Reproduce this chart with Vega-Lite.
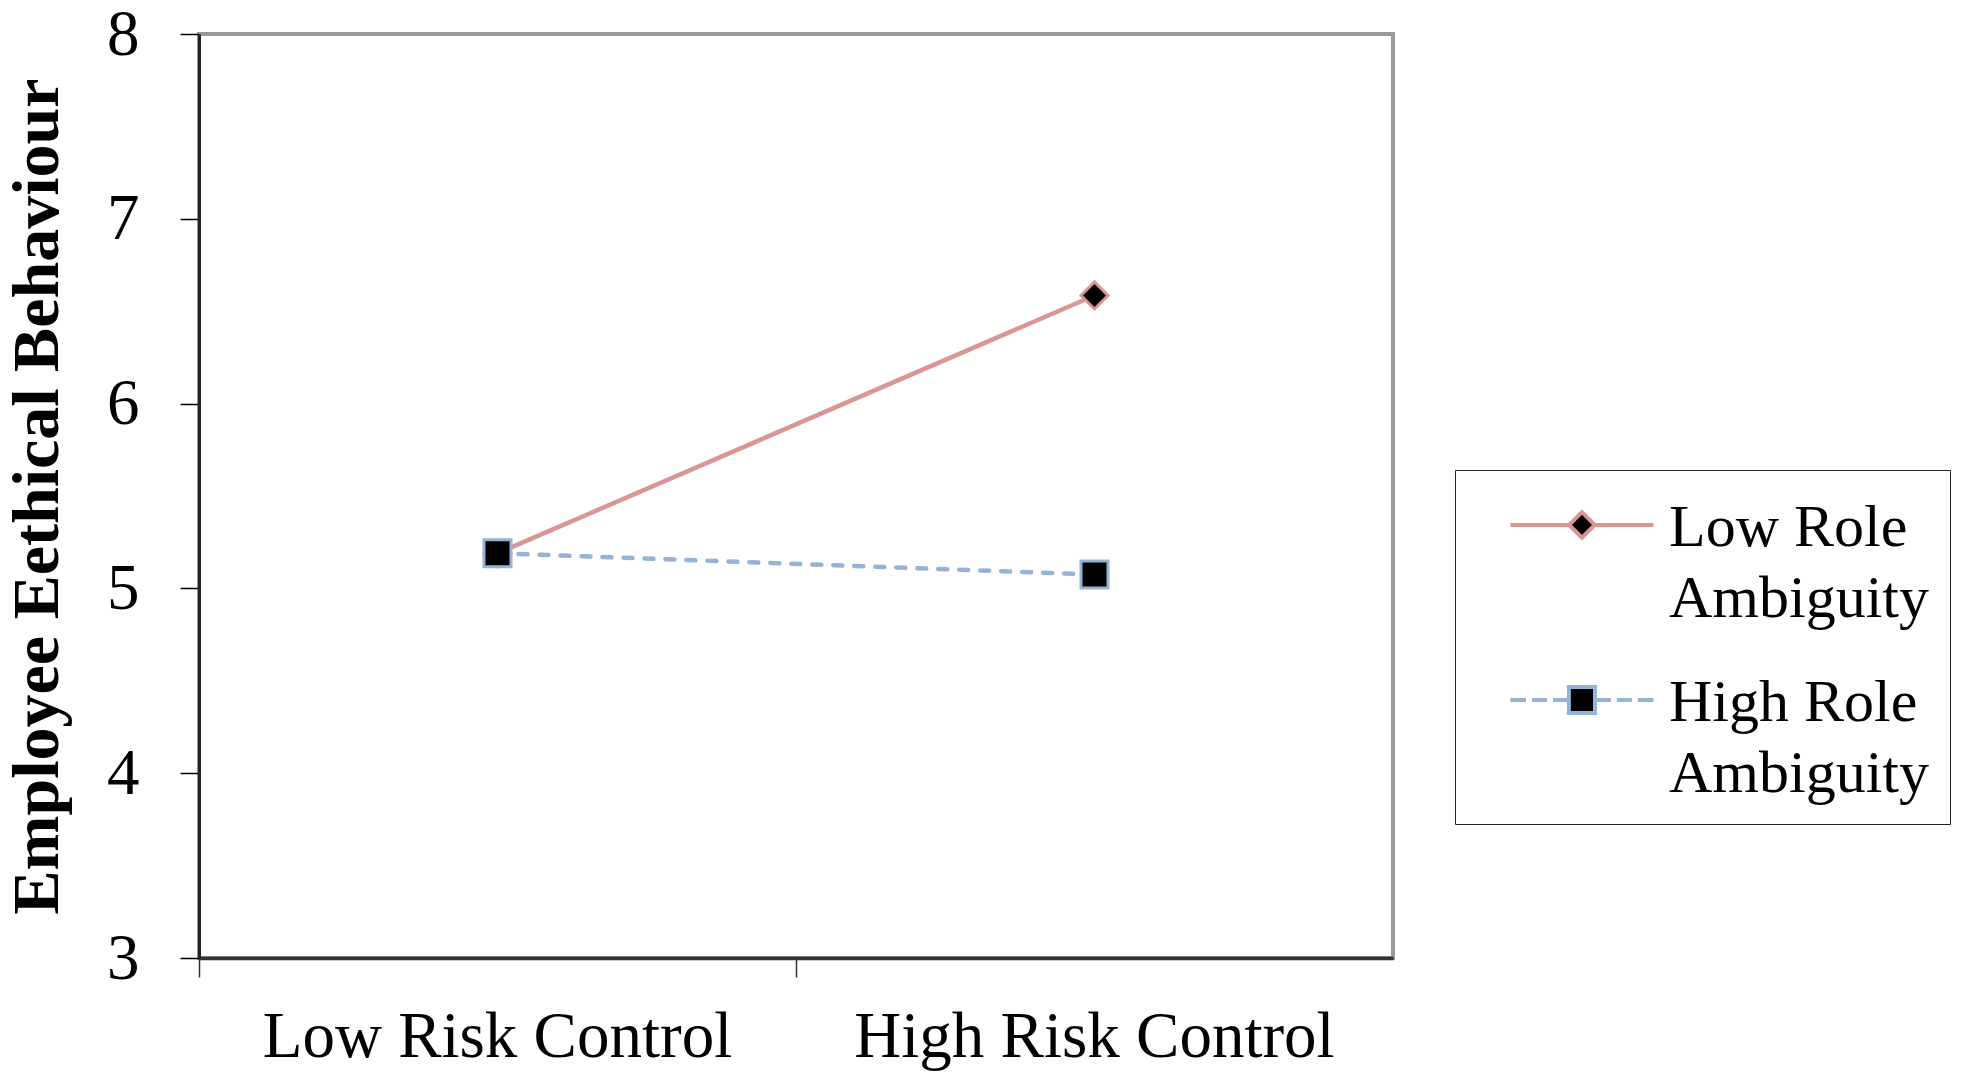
{
  "$schema": "https://vega.github.io/schema/vega-lite/v6.json",
  "width": 1194,
  "height": 924,
  "autosize": {"type": "none"},
  "padding": {"left": 199, "top": 34, "right": 592, "bottom": 120},
  "background": "white",
  "config": {
    "font": "Liberation Serif",
    "view": {"stroke": "#999999", "strokeWidth": 4}
  },
  "data": {
    "values": [
      {"control": "Low Risk Control", "series": "Low Role Ambiguity", "value": 5.19},
      {"control": "High Risk Control", "series": "Low Role Ambiguity", "value": 6.585},
      {"control": "Low Risk Control", "series": "High Role Ambiguity", "value": 5.19},
      {"control": "High Risk Control", "series": "High Role Ambiguity", "value": 5.075}
    ]
  },
  "encoding": {
    "x": {
      "field": "control",
      "type": "nominal",
      "sort": ["Low Risk Control", "High Risk Control"],
      "scale": {"type": "band", "paddingInner": 0, "paddingOuter": 0},
      "axis": {
        "title": null,
        "bandPosition": 0,
        "labelAngle": 0,
        "labelLimit": 0,
        "labelFontSize": 65,
        "labelColor": "black",
        "labelPadding": 28,
        "tickColor": "#333333",
        "tickSize": 19,
        "tickWidth": 1.5,
        "domainColor": "#333333",
        "domainWidth": 3.5
      }
    },
    "y": {
      "field": "value",
      "type": "quantitative",
      "scale": {"domain": [3, 8], "nice": false, "zero": false},
      "axis": {
        "title": "Employee Eethical Behaviour",
        "titleFontSize": 66,
        "titleFontWeight": "bold",
        "titleColor": "black",
        "titlePadding": 35,
        "values": [3, 4, 5, 6, 7, 8],
        "grid": false,
        "labelFontSize": 65,
        "labelColor": "black",
        "labelPadding": 41,
        "tickSize": 19,
        "tickColor": "black",
        "tickWidth": 1.5,
        "domainColor": "#222222",
        "domainWidth": 3
      }
    }
  },
  "layer": [
    {
      "transform": [{"filter": "datum.series == 'Low Role Ambiguity'"}],
      "mark": {"type": "line", "strokeWidth": 4.5, "strokeCap": "round"},
      "encoding": {
        "color": {
          "field": "series",
          "type": "nominal",
          "scale": {"domain": ["Low Role Ambiguity", "High Role Ambiguity"], "range": ["#DA9694", "#95B3D7"]},
          "legend": {
            "title": null,
            "orient": "none",
            "legendX": 1256,
            "legendY": 436,
            "padding": 20,
            "strokeColor": "#222222",
            "fillColor": "white",
            "labelFont": "Liberation Serif",
            "labelFontSize": 60,
            "labelColor": "black",
            "labelLimit": 0,
            "labelOffset": 134,
            "rowPadding": 36,
            "symbolSize": 900,
            "symbolStrokeWidth": 4,
            "labelExpr": "datum.label == 'Low Role Ambiguity' ? ['Low Role', 'Ambiguity\u00a0\u00a0\u00a0\u00a0'] : ['High Role', 'Ambiguity\u00a0\u00a0\u00a0\u00a0']",
            "encode": {
              "symbols": {
                "update": {
                  "shape": {"signal": "datum.value == 'Low Role Ambiguity' ? 'M0.36,0.33L4.28,0.33M5.98,0.33L9.9,0.33M5.13,-0.52L5.98,0.33L5.13,1.18L4.28,0.33Z' : 'M0.36,0.33L1.4,0.33M1.8,0.33L2.8,0.33M3.2,0.33L4.2,0.33M6.06,0.33L7.06,0.33M7.46,0.33L8.46,0.33M8.86,0.33L9.9,0.33M4.26,-0.54L6,-0.54L6,1.2L4.26,1.2Z'"},
                  "fill": {"value": "black"},
                  "opacity": {"value": 1}
                }
              },
              "labels": {
                "update": {
                  "lineHeight": {"value": 71},
                  "dy": {"value": 8}
                }
              }
            }
          }
        }
      }
    },
    {
      "transform": [{"filter": "datum.series == 'High Role Ambiguity'"}],
      "mark": {"type": "line", "stroke": "#95B3D7", "strokeWidth": 4.5, "strokeDash": [9, 12], "strokeCap": "round"},
      "encoding": {}
    },
    {
      "transform": [{"filter": "datum.series == 'Low Role Ambiguity'"}],
      "mark": {"type": "point", "shape": "diamond", "filled": true, "fill": "black", "stroke": "#DA9694", "strokeWidth": 3, "size": 729, "opacity": 1}
    },
    {
      "transform": [{"filter": "datum.series == 'High Role Ambiguity'"}],
      "mark": {"type": "point", "shape": "square", "filled": true, "fill": "black", "stroke": "#95B3D7", "strokeWidth": 3, "size": 729, "opacity": 1}
    }
  ]
}
